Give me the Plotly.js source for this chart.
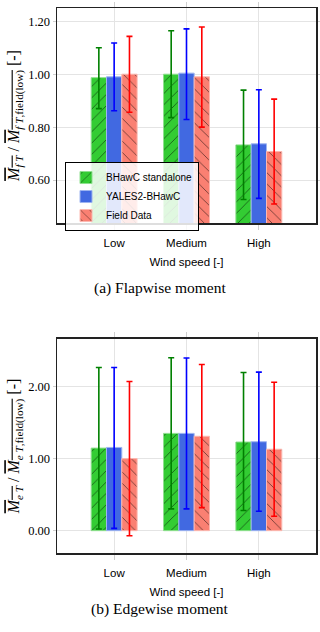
<html lang="en">
  <head>
    <meta charset="UTF-8" />
    <title>Flapwise and edgewise moment</title>
    <script src="https://cdn.plot.ly/plotly-3.0.1.min.js"></script>
    <style>
      body { margin: 0; background: #fff; }
    </style>
  </head>
  <body>
    <div id="chart" style="width: 320px; height: 632px;"></div>
    <script>
      // categories and series
      const windSpeeds = ['Low', 'Medium', 'High'];
      const seriesNames = ['BHawC standalone', 'YALES2-BHawC', 'Field Data'];

      // (a) flapwise moment: mean, upper and lower error bar ends
      const flapBhawc = [0.987, 1.000, 0.733];
      const flapBhawcHi = [1.100, 1.164, 0.940];
      const flapBhawcLo = [0.870, 0.836, 0.527];
      const flapYales = [0.990, 1.004, 0.737];
      const flapYalesHi = [1.118, 1.171, 0.941];
      const flapYalesLo = [0.862, 0.829, 0.531];
      const flapField = [1.000, 0.990, 0.708];
      const flapFieldHi = [1.143, 1.178, 0.906];
      const flapFieldLo = [0.856, 0.800, 0.510];

      // (b) edgewise moment
      const edgeBhawc = [1.146, 1.350, 1.230];
      const edgeBhawcHi = [2.264, 2.400, 2.195];
      const edgeBhawcLo = [0.023, 0.302, 0.279];
      const edgeYales = [1.155, 1.350, 1.234];
      const edgeYalesHi = [2.264, 2.396, 2.200];
      const edgeYalesLo = [0.032, 0.302, 0.270];
      const edgeField = [1.000, 1.310, 1.130];
      const edgeFieldHi = [2.070, 2.306, 2.060];
      const edgeFieldLo = [-0.070, 0.320, 0.200];

      const fills = ['#33cc33', '#4169e1', '#fa8072'];
      const edges = ['#8fe08f', '#9db4f0', '#fcb8b0'];
      const errColors = ['#008000', '#0000ff', '#ff0000'];
      const hatches = ['/', '', '\\'];

      const serif = 'Liberation Serif, DejaVu Serif, serif';
      const sans = 'Liberation Sans, DejaVu Sans, sans-serif';

      function makeBar(i, means, hi, lo, xa, ya, showLegend) {
        return {
          type: 'bar',
          name: seriesNames[i],
          x: windSpeeds,
          y: means,
          xaxis: xa,
          yaxis: ya,
          showlegend: showLegend,
          marker: {
            color: fills[i],
            line: { color: edges[i], width: 1 },
            pattern: {
              shape: hatches[i],
              bgcolor: fills[i],
              fgcolor: '#000',
              fgopacity: 0.6,
              size: 8,
              solidity: 0.1
            }
          },
          error_y: {
            type: 'data',
            symmetric: false,
            array: hi.map((v, k) => v - means[k]),
            arrayminus: lo.map((v, k) => means[k] - v),
            color: errColors[i],
            thickness: 1.6,
            width: 3
          }
        };
      }

      const data = [
        makeBar(0, flapBhawc, flapBhawcHi, flapBhawcLo, 'x', 'y', true),
        makeBar(1, flapYales, flapYalesHi, flapYalesLo, 'x', 'y', true),
        makeBar(2, flapField, flapFieldHi, flapFieldLo, 'x', 'y', true),
        makeBar(0, edgeBhawc, edgeBhawcHi, edgeBhawcLo, 'x2', 'y2', false),
        makeBar(1, edgeYales, edgeYalesHi, edgeYalesLo, 'x2', 'y2', false),
        makeBar(2, edgeField, edgeFieldHi, edgeFieldLo, 'x2', 'y2', false)
      ];

      const xCommon = {
        type: 'category',
        range: [-0.79, 2.79],
        showgrid: true,
        gridcolor: '#e4e4e4',
        showline: true,
        linecolor: '#222',
        linewidth: 1.5,
        mirror: 'all',
        ticks: 'outside',
        ticklen: 5,
        tickcolor: '#cfcfcf',
        ticklabelstandoff: 4,
        tickfont: { family: sans, size: 11.5, color: '#000' },
        title: { text: 'Wind speed [-]', font: { family: sans, size: 11.5, color: '#000' }, standoff: 9 }
      };

      const yCommon = {
        showgrid: true,
        gridcolor: '#e4e4e4',
        zeroline: false,
        showline: true,
        linecolor: '#222',
        linewidth: 1.5,
        mirror: 'all',
        ticks: 'outside',
        ticklen: 3,
        tickcolor: '#cfcfcf',
        tickformat: '.2f',
        tickfont: { family: serif, size: 12.5, color: '#000' }
      };

      const ol = '<span style="text-decoration:overline">';

      const layout = {
        width: 320,
        height: 632,
        margin: { l: 57, r: 4, t: 8, b: 79 },
        paper_bgcolor: '#fff',
        plot_bgcolor: '#fff',
        barmode: 'group',
        bargap: 0.365,
        bargroupgap: 0,
        xaxis: Object.assign({}, xCommon, { anchor: 'y' }),
        xaxis2: Object.assign({}, xCommon, { anchor: 'y2' }),
        yaxis: Object.assign({}, yCommon, {
          domain: [0.6055, 1],
          range: [0.438, 1.25],
          tickvals: [0.6, 0.8, 1.0, 1.2],
          title: {
            text: ol + '<i>M</i><sub><i>f T</i></sub></span> / ' + ol + '<i>M</i><sub><i>f T</i>,field(low)</sub></span> [-]',
            font: { family: serif, size: 16, color: '#000' },
            standoff: 4
          }
        }),
        yaxis2: Object.assign({}, yCommon, {
          domain: [0, 0.3927],
          range: [-0.31, 2.66],
          tickvals: [0, 1, 2],
          title: {
            text: ol + '<i>M</i><sub><i>e T</i></sub></span> / ' + ol + '<i>M</i><sub><i>e T</i>,field(low)</sub></span> [-]',
            font: { family: serif, size: 16, color: '#000' },
            standoff: 4
          }
        }),
        legend: {
          x: 0.031,
          y: 0.7174,
          xanchor: 'left',
          yanchor: 'top',
          bgcolor: 'rgba(255,255,255,0.85)',
          bordercolor: '#000',
          borderwidth: 1,
          font: { family: sans, size: 10, color: '#000' },
          tracegroupgap: 0,
          itemwidth: 30
        },
        annotations: [
          {
            text: '(a) Flapwise moment',
            xref: 'paper', yref: 'paper',
            x: 0.398, y: 0.486,
            showarrow: false,
            font: { family: serif, size: 15.5, color: '#000' }
          },
          {
            text: '(b) Edgewise moment',
            xref: 'paper', yref: 'paper',
            x: 0.398, y: -0.123,
            showarrow: false,
            font: { family: serif, size: 15.5, color: '#000' }
          }
        ]
      };

      Plotly.newPlot('chart', data, layout, { displayModeBar: false, staticPlot: true });
    </script>
  </body>
</html>
